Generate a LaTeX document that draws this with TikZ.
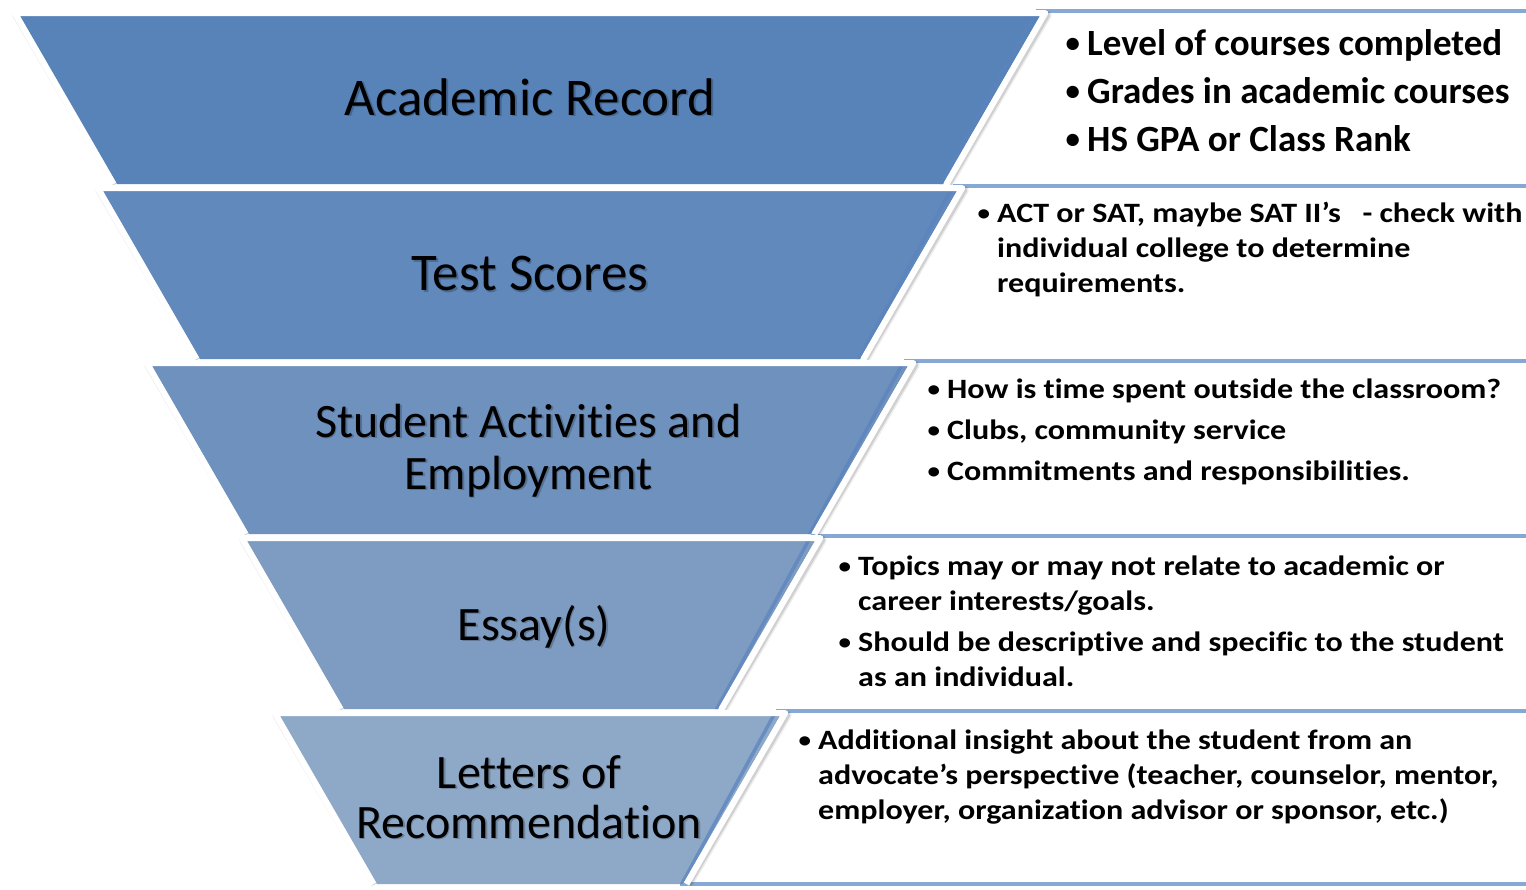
\documentclass[tikz,border=0pt]{standalone}
\usepackage{graphicx}
\usepackage{fontspec}
\setmainfont{Carlito}[Ligatures=NoCommon]
\newfontfamily\descfont{Carlito}[Ligatures=NoCommon,FakeStretch=1.145]
\definecolor{sA}{RGB}{88,131,185}
\definecolor{sB}{RGB}{97,137,188}
\definecolor{sC}{RGB}{111,145,189}
\definecolor{sD}{RGB}{126,156,194}
\definecolor{sE}{RGB}{142,169,200}
\definecolor{boxblue}{RGB}{134,168,212}
\definecolor{stripeblue}{RGB}{92,132,190}
\newlength\bw
\newcommand\bitem[1]{\par\hangindent=\bw\hangafter=1\noindent\makebox[\bw][l]{\hspace{1.5pt}\raisebox{0.07em}{\scalebox{0.78}{•}}}#1}
\tikzset{
  boxline/.style={draw=boxblue,line width=4pt},
  lbl/.style={anchor=base,inner sep=0pt,text=black},
  lblshadow/.style={anchor=base,inner sep=0pt,text=black,opacity=0.22},
  txt/.style={anchor=base west,inner sep=0pt,text=black},
  segborder/.style={draw=white,line width=6pt,line join=round},
  segshadow/.style={draw=black,line width=6pt,line join=round,opacity=0.12},
}
\begin{document}
\begin{tikzpicture}[x=1pt,y=-1pt]
\useasboundingbox (0,0) rectangle (1526,889);
\fill[white] (0,0) rectangle (1526,889);
% right-hand boxes: top bands
\foreach \t/\xr/\n in {16/1040/1,191/957/2,366/908/3,541/815/4,716/780/5}{
  \coordinate (b\n-l) at (\xr-4,\t-5);
  \coordinate (b\n-r) at (1526,\t-5);
  \draw[boxline] (b\n-l) -- (b\n-r);
}
\coordinate (b6-l) at (680,884);
\coordinate (b6-r) at (1526,884);
\draw[boxline] (b6-l) -- (b6-r);
% funnel segments
\foreach \t/\xl/\xr/\c/\n in {16/20/1040/sA/1,191/103/957/sB/2,366/152/908/sC/3,541/247/815/sD/4,716/280/780/sE/5}{
  \pgfmathsetmacro\b{\t+168}
  \pgfmathsetmacro\xlb{\xl+97}
  \pgfmathsetmacro\xrb{\xr-97}
  \coordinate (s\n-tl) at (\xl,\t);
  \coordinate (s\n-tr) at (\xr,\t);
  \coordinate (s\n-br) at (\xrb,\b);
  \coordinate (s\n-bl) at (\xlb,\b);
  % shadow
  \draw[segshadow] (\xlb-1.5,\b) -- (\xl-3.2,\t-1) -- (\xr+7.2,\t-1) -- (\xrb+5.5,\b);
  \draw[segshadow,opacity=0.07,line width=9pt] (\xlb-1.5,\b) -- (\xl-3.2,\t-1) -- (\xr+7.2,\t-1) -- (\xrb+5.5,\b);
  % fill
  \fill[\c] (s\n-tl) -- (s\n-tr) -- (s\n-br) -- (s\n-bl) -- cycle;
  % inner stripe along right edge
  \begin{scope}
    \clip (s\n-tl) -- (s\n-tr) -- (s\n-br) -- (s\n-bl) -- cycle;
    \draw[stripeblue,opacity=0.75,line width=3.5pt] (\xr-4,\t-5) -- (\xrb-4,\b+5);
  \end{scope}
  % white border
  \draw[segborder] (\xlb-3.5,\b) -- (\xl-5.2,\t-3) -- (\xr+5.2,\t-3) -- (\xrb+3.5,\b);
}
% funnel labels
\node[lblshadow,font=\fontsize{53}{60}\selectfont] (l1s) at (531.5,116.5) {Academic Record};
\node[lbl,font=\fontsize{53}{60}\selectfont] (l1) at (530,115) {Academic Record};
\node[lblshadow,font=\fontsize{53}{60}\selectfont] (l2s) at (531.5,292) {Test Scores};
\node[lbl,font=\fontsize{53}{60}\selectfont] (l2) at (530,290.5) {Test Scores};
\node[lblshadow] (l3s) at (530,438.5) {\parbox[t]{600pt}{\fontsize{48}{52}\selectfont\centering Student Activities and\\Employment}};
\node[lbl] (l3) at (528.5,437) {\parbox[t]{600pt}{\fontsize{48}{52}\selectfont\centering Student Activities and\\Employment}};
\node[lblshadow,font=\fontsize{48}{52}\selectfont] (l4s) at (535.5,641.5) {Essay(s)};
\node[lbl,font=\fontsize{48}{52}\selectfont] (l4) at (534,640) {Essay(s)};
\node[lblshadow] (l5s) at (530.5,789.5) {\parbox[t]{600pt}{\fontsize{48}{50}\selectfont\centering Letters of\\Recommendation}};
\node[lbl] (l5) at (529,788) {\parbox[t]{600pt}{\fontsize{48}{50}\selectfont\centering Letters of\\Recommendation}};
% descriptions
\node[txt] (d1) at (1064,55) {\parbox[t]{470pt}{\fontsize{37}{48}\selectfont\bfseries\raggedright\setlength\bw{23pt}%
\bitem{Level of courses completed}\bitem{Grades in academic courses}\bitem{HS GPA or Class Rank}}};
\node[txt] (d2) at (976,222) {\parbox[t]{560pt}{\descfont\fontsize{28}{35}\selectfont\bfseries\raggedright\setlength\bw{21pt}%
\bitem{ACT or SAT, maybe SAT II’s\ \ \ - check with\newline individual college to determine\newline requirements.}}};
\node[txt] (d3) at (926,398) {\parbox[t]{600pt}{\descfont\fontsize{28}{35}\selectfont\bfseries\raggedright\setlength\bw{21pt}\setlength\parskip{6pt}%
\bitem{How is time spent outside the classroom?}\bitem{Clubs, community service}\bitem{Commitments and responsibilities.}}};
\node[txt] (d4) at (837,575) {\parbox[t]{680pt}{\descfont\fontsize{28}{35}\selectfont\bfseries\raggedright\setlength\bw{21pt}\setlength\parskip{6pt}%
\bitem{Topics may or may not relate to academic or\newline career interests/goals.}\bitem{Should be descriptive and specific to the student\newline as an individual.}}};
\node[txt] (d5) at (797,749) {\parbox[t]{720pt}{\descfont\fontsize{28}{35}\selectfont\bfseries\raggedright\setlength\bw{21pt}%
\bitem{Additional insight about the student from an\newline advocate’s perspective (teacher, counselor, mentor,\newline employer, organization advisor or sponsor, etc.)}}};
\end{tikzpicture}
\end{document}
